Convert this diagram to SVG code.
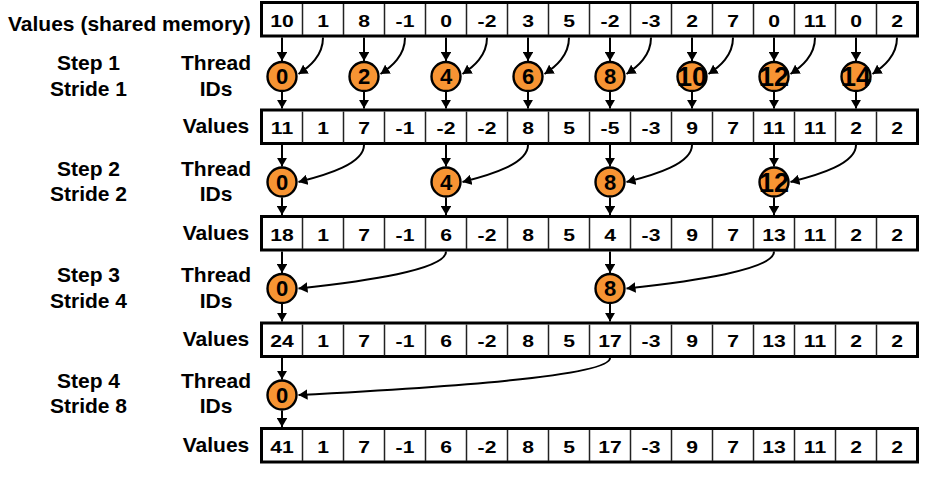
<svg xmlns="http://www.w3.org/2000/svg" width="933" height="478" viewBox="0 0 933 478">
<style>
  .lbl { font-family: "Liberation Sans", Arial, sans-serif; font-weight: bold; font-size: 21px; fill: #000; }
  .mid { text-anchor: middle; }
  .box { fill: #fff; stroke: #000; stroke-width: 3; }
  .div { stroke: #222; stroke-width: 1.5; }
  .val { font-family: "Liberation Sans", Arial, sans-serif; font-weight: bold; font-size: 16.5px; fill: #000; text-anchor: middle; }
  .th circle { fill: #F79433; stroke: #000; stroke-width: 2.4; }
  .th text { font-family: "Liberation Sans", Arial, sans-serif; font-weight: bold; font-size: 22px; fill: #000; text-anchor: middle; }
  .th text.two { font-size: 27px; }
  .arr { fill: none; stroke: #000; stroke-width: 2; marker-end: url(#ah); }
</style>
<defs>
  <marker id="ah" viewBox="0 0 9 10.5" markerWidth="9" markerHeight="10.5" refX="9" refY="5.25" orient="auto" markerUnits="userSpaceOnUse">
    <path d="M0,0 L9,5.25 L0,10.5 Z" fill="#000"/>
  </marker>
  <g id="grid">
    <rect class="box" x="261.5" y="1.5" width="656" height="33.5"/>
    <path class="div" d="M302.5,3V34M343.5,3V34M384.5,3V34M425.5,3V34M466.5,3V34M507.5,3V34M548.5,3V34M589.5,3V34M630.5,3V34M671.5,3V34M712.5,3V34M753.5,3V34M794.5,3V34M835.5,3V34M876.5,3V34"/>
  </g>
</defs>

<g id="labels">
  <text class="lbl" x="8" y="30.5">Values (shared memory)</text>
  <text class="lbl mid" x="88.5" y="70">Step 1</text>
  <text class="lbl mid" x="88.5" y="96">Stride 1</text>
  <text class="lbl mid" x="216" y="70">Thread</text>
  <text class="lbl mid" x="216" y="96">IDs</text>
  <text class="lbl mid" x="216" y="133.2">Values</text>
  <text class="lbl mid" x="88.5" y="175.5">Step 2</text>
  <text class="lbl mid" x="88.5" y="201">Stride 2</text>
  <text class="lbl mid" x="216" y="175.5">Thread</text>
  <text class="lbl mid" x="216" y="201">IDs</text>
  <text class="lbl mid" x="216" y="239.7">Values</text>
  <text class="lbl mid" x="88.5" y="282.3">Step 3</text>
  <text class="lbl mid" x="88.5" y="308.3">Stride 4</text>
  <text class="lbl mid" x="216" y="282.3">Thread</text>
  <text class="lbl mid" x="216" y="308.3">IDs</text>
  <text class="lbl mid" x="216" y="346.2">Values</text>
  <text class="lbl mid" x="88.5" y="388.3">Step 4</text>
  <text class="lbl mid" x="88.5" y="413.3">Stride 8</text>
  <text class="lbl mid" x="216" y="388.3">Thread</text>
  <text class="lbl mid" x="216" y="413.3">IDs</text>
  <text class="lbl mid" x="216" y="451.7">Values</text>
</g>

<g id="row0">
  <use href="#grid" y="1"/>
  <text class="val" transform="translate(282,26.7) scale(1.28,1)">10</text>
  <text class="val" transform="translate(323,26.7) scale(1.28,1)">1</text>
  <text class="val" transform="translate(364,26.7) scale(1.28,1)">8</text>
  <text class="val" transform="translate(405,26.7) scale(1.28,1)">-1</text>
  <text class="val" transform="translate(446,26.7) scale(1.28,1)">0</text>
  <text class="val" transform="translate(487,26.7) scale(1.28,1)">-2</text>
  <text class="val" transform="translate(528,26.7) scale(1.28,1)">3</text>
  <text class="val" transform="translate(569,26.7) scale(1.28,1)">5</text>
  <text class="val" transform="translate(610,26.7) scale(1.28,1)">-2</text>
  <text class="val" transform="translate(651,26.7) scale(1.28,1)">-3</text>
  <text class="val" transform="translate(692,26.7) scale(1.28,1)">2</text>
  <text class="val" transform="translate(733,26.7) scale(1.28,1)">7</text>
  <text class="val" transform="translate(774,26.7) scale(1.28,1)">0</text>
  <text class="val" transform="translate(815,26.7) scale(1.28,1)">11</text>
  <text class="val" transform="translate(856,26.7) scale(1.28,1)">0</text>
  <text class="val" transform="translate(897,26.7) scale(1.28,1)">2</text>
</g>

<g id="row1">
  <use href="#grid" y="108.5"/>
  <text class="val" transform="translate(282,134.3) scale(1.28,1)">11</text>
  <text class="val" transform="translate(323,134.3) scale(1.28,1)">1</text>
  <text class="val" transform="translate(364,134.3) scale(1.28,1)">7</text>
  <text class="val" transform="translate(405,134.3) scale(1.28,1)">-1</text>
  <text class="val" transform="translate(446,134.3) scale(1.28,1)">-2</text>
  <text class="val" transform="translate(487,134.3) scale(1.28,1)">-2</text>
  <text class="val" transform="translate(528,134.3) scale(1.28,1)">8</text>
  <text class="val" transform="translate(569,134.3) scale(1.28,1)">5</text>
  <text class="val" transform="translate(610,134.3) scale(1.28,1)">-5</text>
  <text class="val" transform="translate(651,134.3) scale(1.28,1)">-3</text>
  <text class="val" transform="translate(692,134.3) scale(1.28,1)">9</text>
  <text class="val" transform="translate(733,134.3) scale(1.28,1)">7</text>
  <text class="val" transform="translate(774,134.3) scale(1.28,1)">11</text>
  <text class="val" transform="translate(815,134.3) scale(1.28,1)">11</text>
  <text class="val" transform="translate(856,134.3) scale(1.28,1)">2</text>
  <text class="val" transform="translate(897,134.3) scale(1.28,1)">2</text>
</g>

<g id="row2">
  <use href="#grid" y="215"/>
  <text class="val" transform="translate(282,240.8) scale(1.28,1)">18</text>
  <text class="val" transform="translate(323,240.8) scale(1.28,1)">1</text>
  <text class="val" transform="translate(364,240.8) scale(1.28,1)">7</text>
  <text class="val" transform="translate(405,240.8) scale(1.28,1)">-1</text>
  <text class="val" transform="translate(446,240.8) scale(1.28,1)">6</text>
  <text class="val" transform="translate(487,240.8) scale(1.28,1)">-2</text>
  <text class="val" transform="translate(528,240.8) scale(1.28,1)">8</text>
  <text class="val" transform="translate(569,240.8) scale(1.28,1)">5</text>
  <text class="val" transform="translate(610,240.8) scale(1.28,1)">4</text>
  <text class="val" transform="translate(651,240.8) scale(1.28,1)">-3</text>
  <text class="val" transform="translate(692,240.8) scale(1.28,1)">9</text>
  <text class="val" transform="translate(733,240.8) scale(1.28,1)">7</text>
  <text class="val" transform="translate(774,240.8) scale(1.28,1)">13</text>
  <text class="val" transform="translate(815,240.8) scale(1.28,1)">11</text>
  <text class="val" transform="translate(856,240.8) scale(1.28,1)">2</text>
  <text class="val" transform="translate(897,240.8) scale(1.28,1)">2</text>
</g>

<g id="row3">
  <use href="#grid" y="321.5"/>
  <text class="val" transform="translate(282,347.3) scale(1.28,1)">24</text>
  <text class="val" transform="translate(323,347.3) scale(1.28,1)">1</text>
  <text class="val" transform="translate(364,347.3) scale(1.28,1)">7</text>
  <text class="val" transform="translate(405,347.3) scale(1.28,1)">-1</text>
  <text class="val" transform="translate(446,347.3) scale(1.28,1)">6</text>
  <text class="val" transform="translate(487,347.3) scale(1.28,1)">-2</text>
  <text class="val" transform="translate(528,347.3) scale(1.28,1)">8</text>
  <text class="val" transform="translate(569,347.3) scale(1.28,1)">5</text>
  <text class="val" transform="translate(610,347.3) scale(1.28,1)">17</text>
  <text class="val" transform="translate(651,347.3) scale(1.28,1)">-3</text>
  <text class="val" transform="translate(692,347.3) scale(1.28,1)">9</text>
  <text class="val" transform="translate(733,347.3) scale(1.28,1)">7</text>
  <text class="val" transform="translate(774,347.3) scale(1.28,1)">13</text>
  <text class="val" transform="translate(815,347.3) scale(1.28,1)">11</text>
  <text class="val" transform="translate(856,347.3) scale(1.28,1)">2</text>
  <text class="val" transform="translate(897,347.3) scale(1.28,1)">2</text>
</g>

<g id="row4">
  <use href="#grid" y="427"/>
  <text class="val" transform="translate(282,452.8) scale(1.28,1)">41</text>
  <text class="val" transform="translate(323,452.8) scale(1.28,1)">1</text>
  <text class="val" transform="translate(364,452.8) scale(1.28,1)">7</text>
  <text class="val" transform="translate(405,452.8) scale(1.28,1)">-1</text>
  <text class="val" transform="translate(446,452.8) scale(1.28,1)">6</text>
  <text class="val" transform="translate(487,452.8) scale(1.28,1)">-2</text>
  <text class="val" transform="translate(528,452.8) scale(1.28,1)">8</text>
  <text class="val" transform="translate(569,452.8) scale(1.28,1)">5</text>
  <text class="val" transform="translate(610,452.8) scale(1.28,1)">17</text>
  <text class="val" transform="translate(651,452.8) scale(1.28,1)">-3</text>
  <text class="val" transform="translate(692,452.8) scale(1.28,1)">9</text>
  <text class="val" transform="translate(733,452.8) scale(1.28,1)">7</text>
  <text class="val" transform="translate(774,452.8) scale(1.28,1)">13</text>
  <text class="val" transform="translate(815,452.8) scale(1.28,1)">11</text>
  <text class="val" transform="translate(856,452.8) scale(1.28,1)">2</text>
  <text class="val" transform="translate(897,452.8) scale(1.28,1)">2</text>
</g>

<g id="connectors">
  <!-- step 1 -->
  <path class="arr" d="M282,37.5V61"/><path class="arr" d="M282,92V108.5"/>
  <path class="arr" d="M364,37.5V61"/><path class="arr" d="M364,92V108.5"/>
  <path class="arr" d="M446,37.5V61"/><path class="arr" d="M446,92V108.5"/>
  <path class="arr" d="M528,37.5V61"/><path class="arr" d="M528,92V108.5"/>
  <path class="arr" d="M610,37.5V61"/><path class="arr" d="M610,92V108.5"/>
  <path class="arr" d="M692,37.5V61"/><path class="arr" d="M692,92V108.5"/>
  <path class="arr" d="M774,37.5V61"/><path class="arr" d="M774,92V108.5"/>
  <path class="arr" d="M856,37.5V61"/><path class="arr" d="M856,92V108.5"/>
  <path class="arr" d="M323,37.5 C323,55.75 309.5,66.7 298.5,74"/>
  <path class="arr" d="M405,37.5 C405,55.75 391.5,66.7 380.5,74"/>
  <path class="arr" d="M487,37.5 C487,55.75 473.5,66.7 462.5,74"/>
  <path class="arr" d="M569,37.5 C569,55.75 555.5,66.7 544.5,74"/>
  <path class="arr" d="M651,37.5 C651,55.75 637.5,66.7 626.5,74"/>
  <path class="arr" d="M733,37.5 C733,55.75 719.5,66.7 708.5,74"/>
  <path class="arr" d="M815,37.5 C815,55.75 801.5,66.7 790.5,74"/>
  <path class="arr" d="M897,37.5 C897,55.75 883.5,66.7 872.5,74"/>
  <!-- step 2 -->
  <path class="arr" d="M282,145V166.5"/><path class="arr" d="M282,197.5V215"/>
  <path class="arr" d="M446,145V166.5"/><path class="arr" d="M446,197.5V215"/>
  <path class="arr" d="M610,145V166.5"/><path class="arr" d="M610,197.5V215"/>
  <path class="arr" d="M774,145V166.5"/><path class="arr" d="M774,197.5V215"/>
  <path class="arr" d="M364,145 C364,163.5 328,174.6 298.5,182"/>
  <path class="arr" d="M528,145 C528,163.5 492,174.6 462.5,182"/>
  <path class="arr" d="M692,145 C692,163.5 656,174.6 626.5,182"/>
  <path class="arr" d="M856,145 C856,163.5 820,174.6 790.5,182"/>
  <!-- step 3 -->
  <path class="arr" d="M282,251.5V273"/><path class="arr" d="M282,304V321.5"/>
  <path class="arr" d="M610,251.5V273"/><path class="arr" d="M610,304V321.5"/>
  <path class="arr" d="M446,251.5 C446,270 364.9,281.1 298.5,288.5"/>
  <path class="arr" d="M774,251.5 C774,270 692.9,281.1 626.5,288.5"/>
  <!-- step 4 -->
  <path class="arr" d="M282,358V379.5"/><path class="arr" d="M282,410.5V427"/>
  <path class="arr" d="M610,358 C610,376.5 438.7,387.6 298.5,395"/>
</g>

<g id="t1_0" class="th"><circle cx="282" cy="76.5" r="14.5"/><text x="282" y="84.4">0</text></g>
<g id="t1_2" class="th"><circle cx="364" cy="76.5" r="14.5"/><text x="364" y="84.4">2</text></g>
<g id="t1_4" class="th"><circle cx="446" cy="76.5" r="14.5"/><text x="446" y="84.4">4</text></g>
<g id="t1_6" class="th"><circle cx="528" cy="76.5" r="14.5"/><text x="528" y="84.4">6</text></g>
<g id="t1_8" class="th"><circle cx="610" cy="76.5" r="14.5"/><text x="610" y="84.4">8</text></g>
<g id="t1_10" class="th"><circle cx="692" cy="76.5" r="14.5"/><text class="two" x="692" y="86.2">10</text></g>
<g id="t1_12" class="th"><circle cx="774" cy="76.5" r="14.5"/><text class="two" x="774" y="86.2">12</text></g>
<g id="t1_14" class="th"><circle cx="856" cy="76.5" r="14.5"/><text class="two" x="856" y="86.2">14</text></g>

<g id="t2_0" class="th"><circle cx="282" cy="182" r="14.5"/><text x="282" y="189.9">0</text></g>
<g id="t2_4" class="th"><circle cx="446" cy="182" r="14.5"/><text x="446" y="189.9">4</text></g>
<g id="t2_8" class="th"><circle cx="610" cy="182" r="14.5"/><text x="610" y="189.9">8</text></g>
<g id="t2_12" class="th"><circle cx="774" cy="182" r="14.5"/><text class="two" x="774" y="191.7">12</text></g>

<g id="t3_0" class="th"><circle cx="282" cy="288.5" r="14.5"/><text x="282" y="296.4">0</text></g>
<g id="t3_8" class="th"><circle cx="610" cy="288.5" r="14.5"/><text x="610" y="296.4">8</text></g>

<g id="t4_0" class="th"><circle cx="282" cy="395" r="14.5"/><text x="282" y="402.9">0</text></g>
</svg>
